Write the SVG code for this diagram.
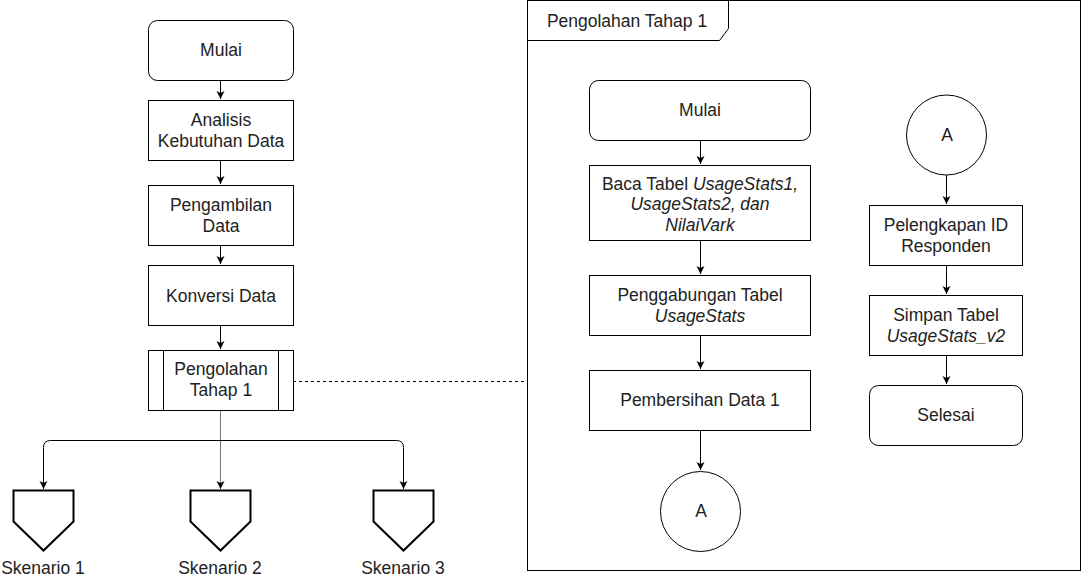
<svg xmlns="http://www.w3.org/2000/svg" width="1084" height="578" viewBox="0 0 1084 578">
<defs>
<marker id="arr" markerWidth="10" markerHeight="10" refX="8" refY="5" orient="auto" markerUnits="userSpaceOnUse">
<path d="M0,1 L8,5 L0,9 L2,5 Z" fill="#000"/>
</marker>
<marker id="arrg" markerWidth="10" markerHeight="10" refX="8" refY="5" orient="auto" markerUnits="userSpaceOnUse">
<path d="M0,1 L8,5 L0,9 L2,5 Z" fill="#000"/>
</marker>
<style>
.b{fill:#fff;stroke:#000;stroke-width:1}
.t{font-family:"Liberation Sans",Arial,sans-serif;font-size:17.5px;fill:#222;text-anchor:middle}
.i{font-style:italic}
.c{fill:none;stroke:#000;stroke-width:1}
.p{fill:#fff;stroke:#000;stroke-width:2}
</style>
</defs>
<rect width="1084" height="578" fill="#fff"/>

<g id="frame">
<rect x="527.5" y="0.5" width="553" height="570" class="b"/>
<path d="M527.5,40.5 L719.5,40.5 L728.5,28.5 L728.5,0.5" class="c"/>
<text x="627" y="27" class="t">Pengolahan Tahap 1</text>
</g>

<g id="connectors">
<line x1="220.5" y1="80" x2="220.5" y2="99" class="c" marker-end="url(#arr)"/>
<line x1="220.5" y1="160" x2="220.5" y2="184" class="c" marker-end="url(#arr)"/>
<line x1="220.5" y1="245" x2="220.5" y2="264" class="c" marker-end="url(#arr)"/>
<line x1="220.5" y1="325" x2="220.5" y2="349" class="c" marker-end="url(#arr)"/>
<line x1="220.5" y1="410" x2="220.5" y2="489" stroke="#777" stroke-width="1" marker-end="url(#arrg)"/>
<path d="M220.5,440.5 L50.5,440.5 Q43.5,440.5 43.5,447.5 L43.5,489" class="c" marker-end="url(#arr)"/>
<path d="M220.5,440.5 L396.5,440.5 Q403.5,440.5 403.5,447.5 L403.5,489" class="c" marker-end="url(#arr)"/>
<line x1="293" y1="381.5" x2="527" y2="381.5" stroke="#000" stroke-width="1" stroke-dasharray="3,3"/>
<line x1="700.5" y1="140" x2="700.5" y2="164" class="c" marker-end="url(#arr)"/>
<line x1="700.5" y1="240" x2="700.5" y2="274" class="c" marker-end="url(#arr)"/>
<line x1="700.5" y1="335" x2="700.5" y2="369" class="c" marker-end="url(#arr)"/>
<line x1="700.5" y1="430" x2="700.5" y2="470" class="c" marker-end="url(#arr)"/>
<line x1="946.5" y1="175" x2="946.5" y2="204" class="c" marker-end="url(#arr)"/>
<line x1="946.5" y1="265" x2="946.5" y2="294" class="c" marker-end="url(#arr)"/>
<line x1="946.5" y1="355" x2="946.5" y2="384" class="c" marker-end="url(#arr)"/>
</g>

<g id="mulai1">
<rect x="148.5" y="20.5" width="145" height="60" rx="9" class="b"/>
<text x="221" y="56" class="t">Mulai</text>
</g>
<g id="analisis">
<rect x="148.5" y="100.5" width="145" height="60" class="b"/>
<text x="221" y="126" class="t">Analisis</text>
<text x="221" y="147" class="t">Kebutuhan Data</text>
</g>
<g id="pengambilan">
<rect x="148.5" y="185.5" width="145" height="60" class="b"/>
<text x="221" y="211" class="t">Pengambilan</text>
<text x="221" y="232" class="t">Data</text>
</g>
<g id="konversi">
<rect x="148.5" y="265.5" width="145" height="60" class="b"/>
<text x="221" y="302" class="t">Konversi Data</text>
</g>
<g id="pengolahan">
<rect x="148.5" y="350.5" width="145" height="60" class="b"/>
<line x1="163.5" y1="350.5" x2="163.5" y2="410.5" class="c"/>
<line x1="278.5" y1="350.5" x2="278.5" y2="410.5" class="c"/>
<text x="221" y="375" class="t">Pengolahan</text>
<text x="221" y="396" class="t">Tahap 1</text>
</g>
<g id="skenario1">
<path d="M13.5,490.5 L73.5,490.5 L73.5,521.5 L43.5,550.5 L13.5,521.5 Z" class="p"/>
<text x="43" y="574" class="t">Skenario 1</text>
</g>
<g id="skenario2">
<path d="M190.5,490.5 L250.5,490.5 L250.5,521.5 L220.5,550.5 L190.5,521.5 Z" class="p"/>
<text x="220" y="574" class="t">Skenario 2</text>
</g>
<g id="skenario3">
<path d="M373.5,490.5 L433.5,490.5 L433.5,521.5 L403.5,550.5 L373.5,521.5 Z" class="p"/>
<text x="403" y="574" class="t">Skenario 3</text>
</g>

<g id="mulai2">
<rect x="589.5" y="80.5" width="221" height="60" rx="9" class="b"/>
<text x="700" y="116" class="t">Mulai</text>
</g>
<g id="baca">
<rect x="589.5" y="165.5" width="221" height="75" class="b"/>
<text x="700" y="190" class="t">Baca Tabel <tspan class="i">UsageStats1,</tspan></text>
<text x="700" y="210" class="t i">UsageStats2, dan</text>
<text x="700" y="231" class="t i">NilaiVark</text>
</g>
<g id="penggabungan">
<rect x="589.5" y="275.5" width="221" height="60" class="b"/>
<text x="700" y="301" class="t">Penggabungan Tabel</text>
<text x="700" y="322" class="t i">UsageStats</text>
</g>
<g id="pembersihan">
<rect x="589.5" y="370.5" width="221" height="60" class="b"/>
<text x="700" y="406" class="t">Pembersihan Data 1</text>
</g>
<g id="a1">
<circle cx="700.5" cy="511.5" r="40" class="b"/>
<text x="701" y="517" class="t">A</text>
</g>
<g id="a2">
<circle cx="946.5" cy="135" r="40" class="b"/>
<text x="947" y="141" class="t">A</text>
</g>
<g id="pelengkapan">
<rect x="869.5" y="205.5" width="153" height="60" class="b"/>
<text x="946" y="231" class="t">Pelengkapan ID</text>
<text x="946" y="252" class="t">Responden</text>
</g>
<g id="simpan">
<rect x="869.5" y="295.5" width="153" height="60" class="b"/>
<text x="946" y="321" class="t">Simpan Tabel</text>
<text x="946" y="342" class="t i">UsageStats_v2</text>
</g>
<g id="selesai">
<rect x="869.5" y="385.5" width="153" height="60" rx="9" class="b"/>
<text x="946" y="421" class="t">Selesai</text>
</g>
</svg>
